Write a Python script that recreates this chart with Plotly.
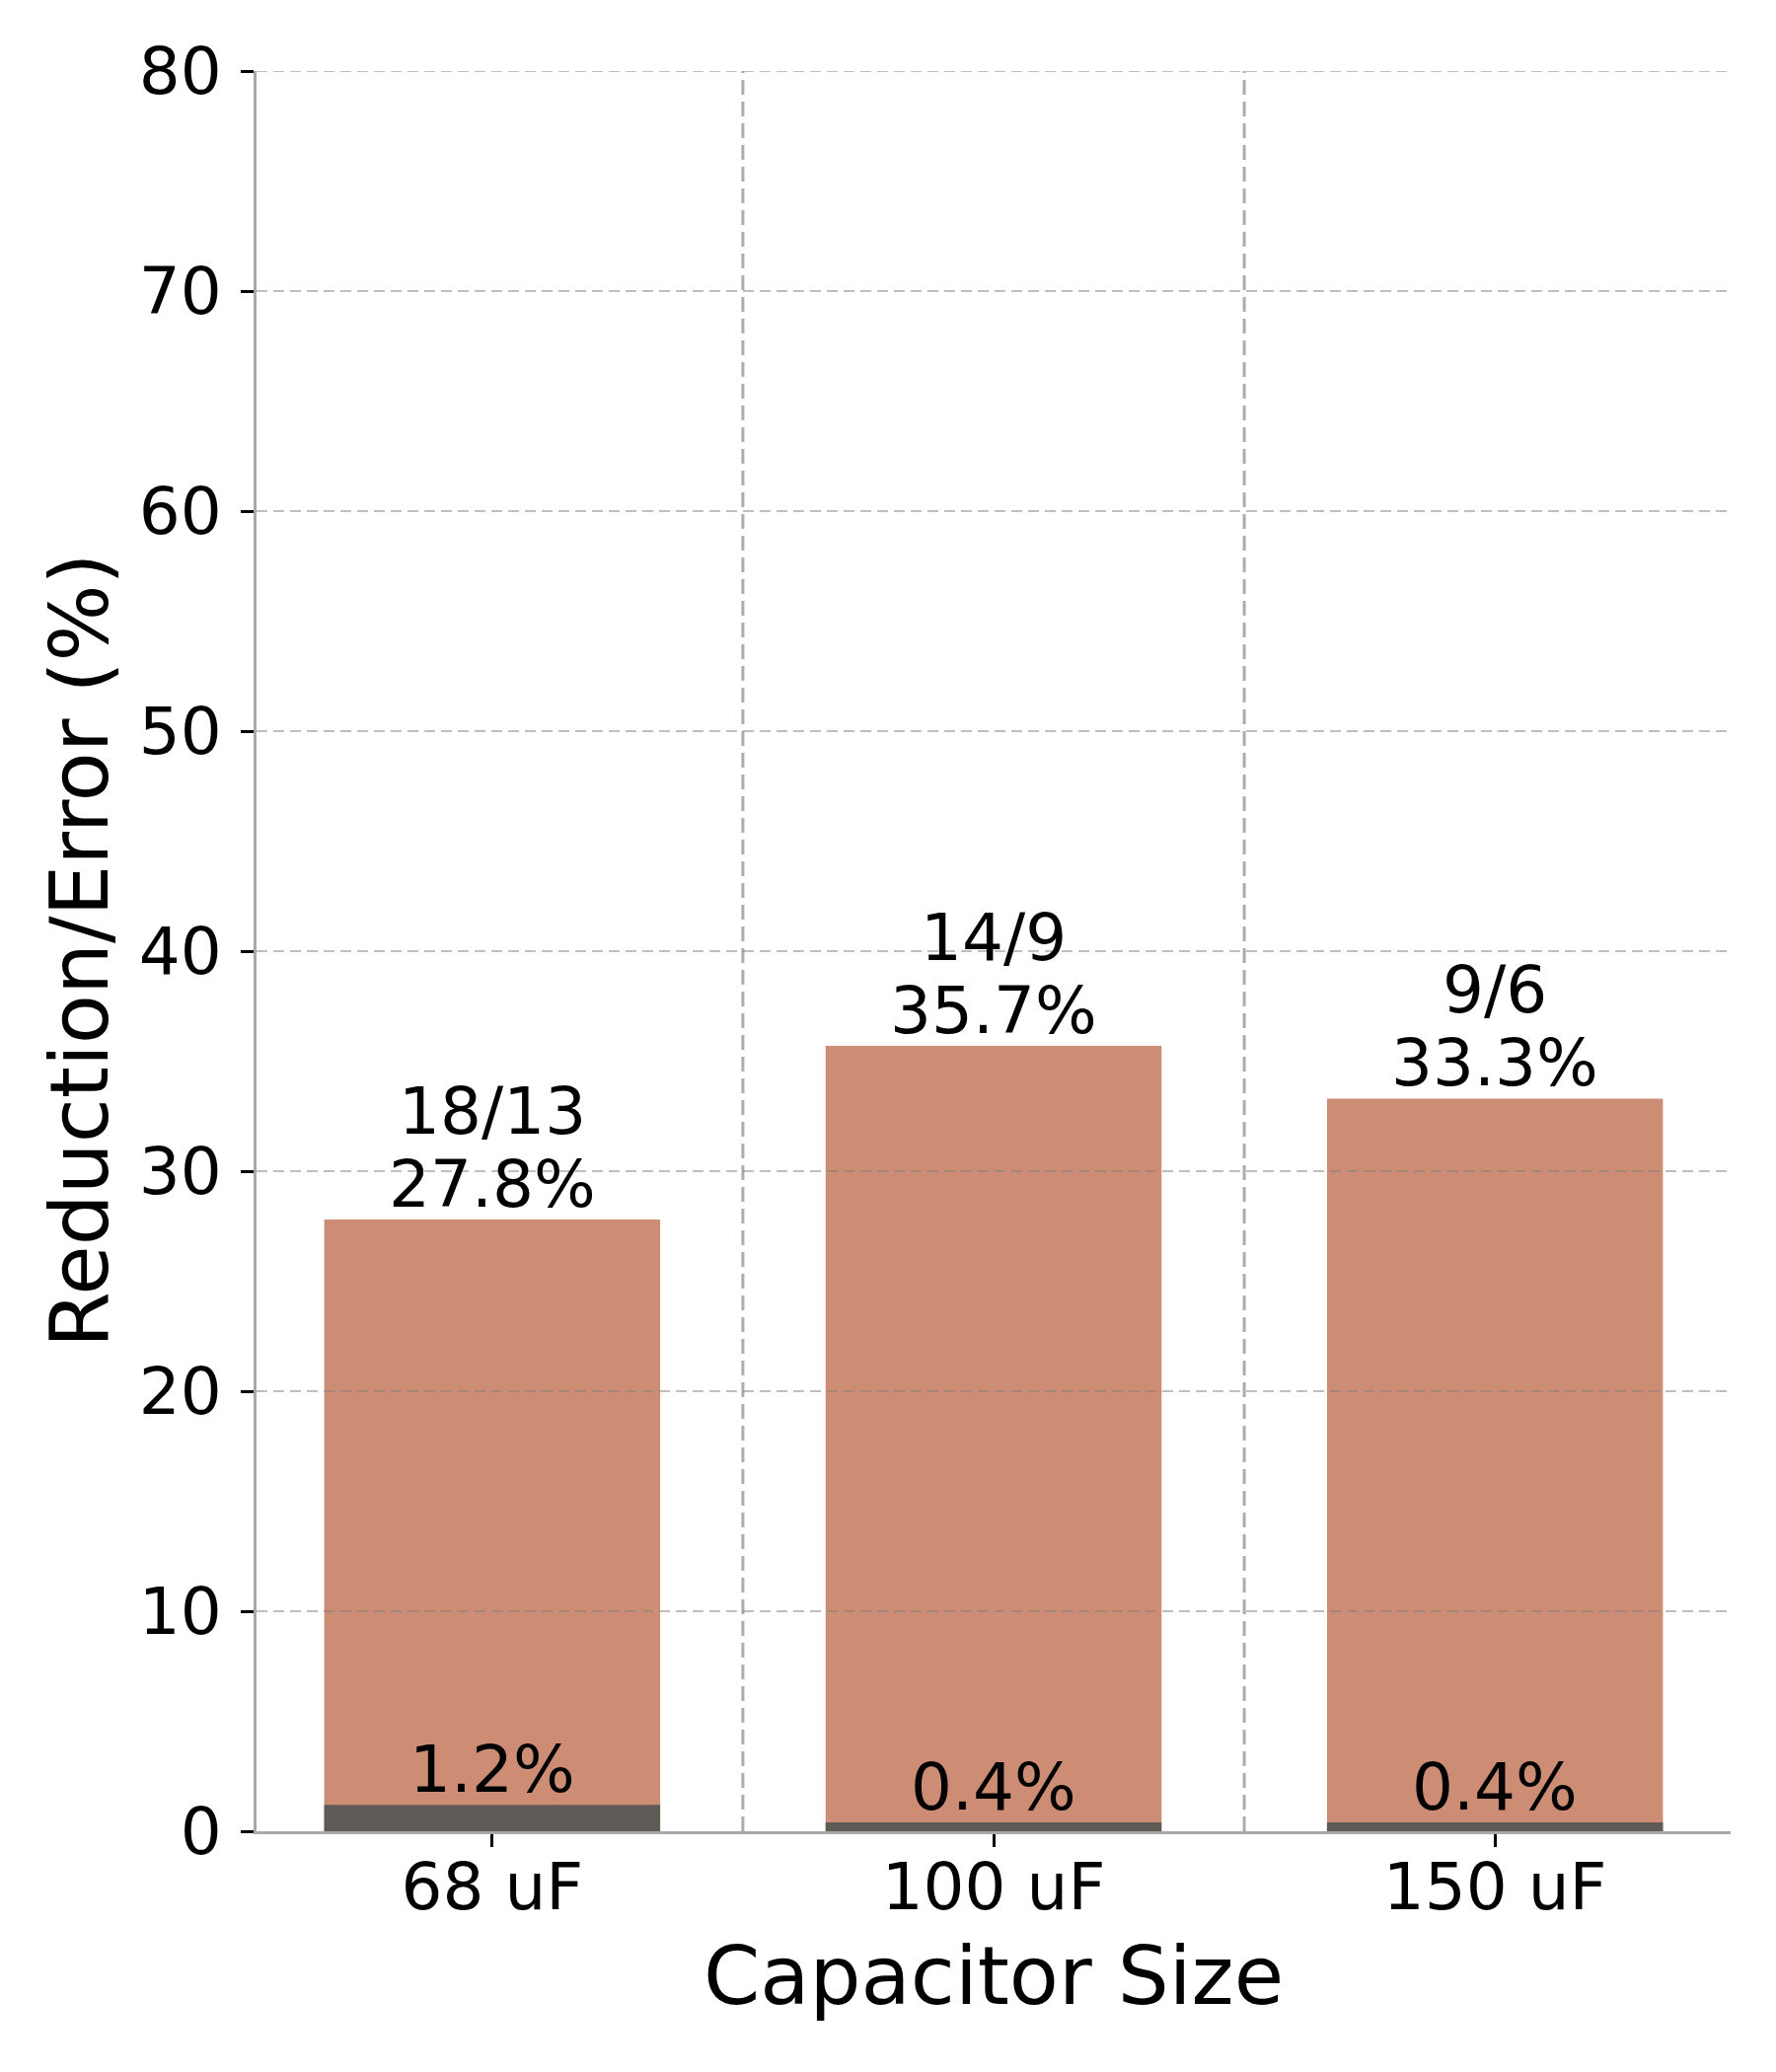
"""
Reduction vs error bar chart for capacitor sizes
"""

import plotly.graph_objects as go

CATEGORIES = ['68 uF', '100 uF', '150 uF']
BEFORE = [18, 14, 9]
AFTER = [13, 9, 6]
REDUCTION = [27.8, 35.7, 33.3]
ERROR = [1.2, 0.4, 0.4]
Y_TICKS = [0, 10, 20, 30, 40, 50, 60, 70, 80]

FONT = 'DejaVu Sans'
POS = list(range(len(CATEGORIES)))
BAR_W = 0.67
HGRID = 'rgba(128,128,128,0.5)'
VGRID = 'rgba(128,128,128,0.65)'

# page has an 8px body offset, margins compensate for it
ML, MR, MT, MB = 252, 54, 64, 252
PLOT_W = 1800 - ML - MR
PLOT_H = 2100 - MT - MB

fig = go.Figure()
fig.add_trace(go.Bar(x=POS, y=REDUCTION, width=BAR_W,
                     marker=dict(color='#CD8D74', line=dict(width=0)),
                     name='Reduction'))
fig.add_trace(go.Bar(x=POS, y=ERROR, width=BAR_W,
                     marker=dict(color='#5E5B56', line=dict(width=0)),
                     name='Error'))

lab_font = dict(family=FONT, size=66, color='black')
# labels above the bars (two lines, tighter spacing than plotly's <br>)
for p, b, a, r, e in zip(POS, BEFORE, AFTER, REDUCTION, ERROR):
    fig.add_annotation(x=p, y=r, xref='x', yref='y', yanchor='bottom',
                       text=f'{r}%', showarrow=False, yshift=-5, font=lab_font)
    fig.add_annotation(x=p, y=r, xref='x', yref='y', yanchor='bottom',
                       text=f'{b}/{a}', showarrow=False, yshift=69, font=lab_font)
    fig.add_annotation(x=p, y=e, xref='x', yref='y', yanchor='bottom',
                       text=f'{e}%', showarrow=False, yshift=-5, font=lab_font)

# dashed grid drawn over the bars
for t in Y_TICKS[1:]:
    fig.add_shape(type='line', xref='paper', yref='y', x0=0, x1=1, y0=t, y1=t,
                  line=dict(color=HGRID, width=2, dash='11px,6px'), layer='above')
for p in POS[:-1]:
    fig.add_shape(type='line', xref='x', yref='paper', x0=p + 0.5, x1=p + 0.5,
                  y0=0, y1=1,
                  line=dict(color=VGRID, width=3, dash='15px,7px'), layer='above')

# axis titles
fig.add_annotation(x=0.5, y=-146 / PLOT_H, xref='paper', yref='paper',
                   xanchor='center', yanchor='middle', text='Capacitor Size',
                   showarrow=False, font=dict(family=FONT, size=82, color='black'))
fig.add_annotation(x=-180 / PLOT_W, y=0.5, xref='paper', yref='paper',
                   xanchor='center', yanchor='middle', text='Reduction/Error (%)',
                   textangle=-90, showarrow=False,
                   font=dict(family=FONT, size=82, color='black'))

fig.update_layout(
    width=1800, height=2100,
    barmode='overlay',
    showlegend=False,
    plot_bgcolor='white', paper_bgcolor='white',
    margin=dict(l=ML, r=MR, t=MT, b=MB),
    font=dict(family=FONT, size=66, color='black'),
)
fig.update_xaxes(range=[-0.47, len(CATEGORIES) - 1 + 0.47],
                 tickvals=POS, ticktext=CATEGORIES,
                 showgrid=False, zeroline=False,
                 showline=True, linecolor='#a8a8a8', linewidth=3,
                 ticks='outside', ticklen=13, tickwidth=3, tickcolor='black',
                 ticklabelstandoff=-16,
                 tickfont=dict(family=FONT, size=66, color='black'))
fig.update_yaxes(range=[0, 80], tickvals=Y_TICKS,
                 showgrid=False, zeroline=False,
                 showline=True, linecolor='#a8a8a8', linewidth=3,
                 ticks='outside', ticklen=13, tickwidth=3, tickcolor='black',
                 ticklabelstandoff=6,
                 tickfont=dict(family=FONT, size=66, color='black'))

fig.write_html('out.html')
